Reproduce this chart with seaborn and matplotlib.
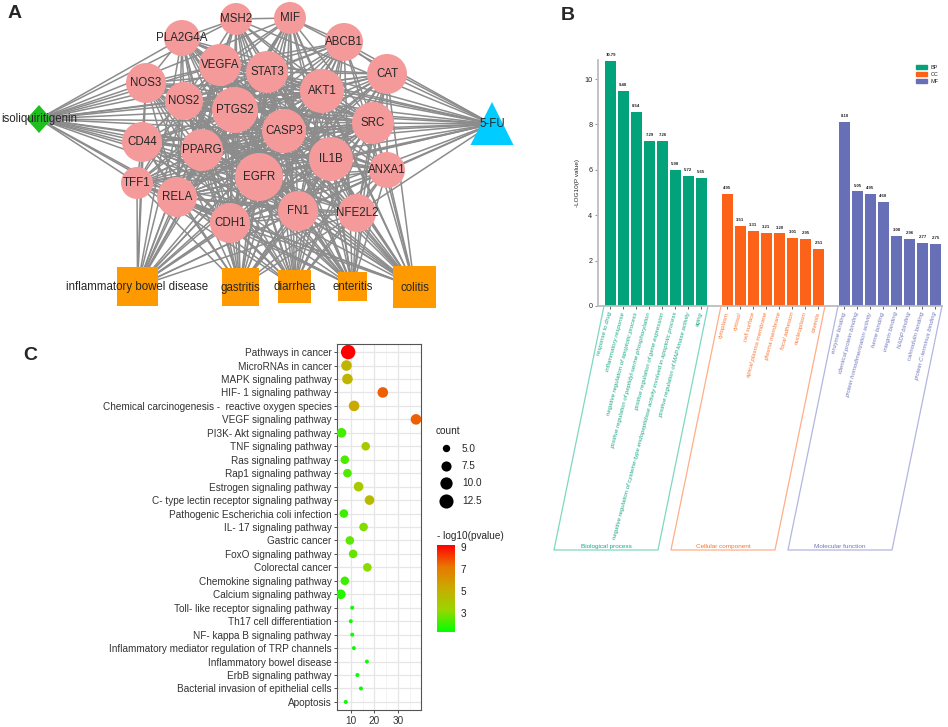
import numpy as np
import pandas as pd
import matplotlib
matplotlib.use("Agg")
import matplotlib.pyplot as plt
import matplotlib.cm as cm
import seaborn as sns
from matplotlib.patches import Circle, Rectangle, Polygon, Patch
from matplotlib.lines import Line2D
from matplotlib.colors import LinearSegmentedColormap, Normalize

sns.set_style("white")
plt.rcParams['font.family'] = ['Liberation Sans', 'DejaVu Sans']

W, H = 948, 727

# ================= A: network (layout, px) =================
GENES = ["MSH2", "MIF", "PLA2G4A", "ABCB1", "VEGFA", "STAT3", "CAT", "NOS3", "AKT1",
         "NOS2", "PTGS2", "SRC", "CASP3", "CD44", "PPARG", "IL1B", "ANXA1", "EGFR",
         "TFF1", "RELA", "FN1", "NFE2L2", "CDH1"]
GENE_X = [236, 290, 182, 344, 220, 267, 387, 146, 322, 184, 235, 373, 284, 142, 202,
          331, 387, 259, 137, 177, 298, 357, 230]
GENE_Y = [19, 18, 38, 42, 65, 72, 74, 83, 91, 101, 110, 123, 131, 142, 150, 159, 170,
          177, 183, 197, 211, 213, 223]
GENE_R = [16, 16, 18, 19, 21, 21, 20, 20, 22, 19, 23, 21, 22, 20, 21, 22, 18, 24, 16,
          20, 20, 19, 20]
HUB_GENES = ["AKT1", "EGFR", "CASP3", "PTGS2", "STAT3", "VEGFA", "IL1B", "PPARG",
             "SRC", "RELA", "CDH1", "FN1", "NOS2"]
EXTRA_PPI = [("NOS3", "CD44"), ("CD44", "TFF1"), ("MSH2", "MIF"), ("ABCB1", "CAT"),
             ("PLA2G4A", "NOS3"), ("ANXA1", "NFE2L2"), ("CAT", "NFE2L2"),
             ("MIF", "ABCB1"), ("CAT", "ANXA1"), ("PLA2G4A", "MSH2")]

DRUGS = ["isoliquiritigenin", "5-FU"]
DRUG_X = [39, 492]
DRUG_Y = [119, 124]

DISEASES = ["inflammatory bowel disease", "gastritis", "diarrhea", "enteritis", "colitis"]
DIS_X = [137.5, 240, 294.5, 352.5, 414.5]
DIS_Y = [286.5, 287, 286.5, 286.5, 287]
DIS_W = [41, 37, 33, 29, 43]
DIS_H = [39, 38, 33, 29, 42]

# ================= B: GO enrichment =================
bp_terms = ["response to drug", "inflammatory response",
            "negative regulation of apoptotic process",
            "positive regulation of peptidyl-serine phosphorylation",
            "positive regulation of gene expression",
            "negative regulation of cysteine-type endopeptidase activity involved in apoptotic process",
            "positive regulation of MAP kinase activity", "aging"]
bp_vals = [10.79, 9.48, 8.54, 7.29, 7.26, 5.98, 5.72, 5.65]
cc_terms = ["cytoplasm", "cytosol", "cell surface", "apical plasma membrane",
            "plasma membrane", "focal adhesion", "nucleoplasm", "caveola"]
cc_vals = [4.95, 3.51, 3.31, 3.21, 3.20, 3.01, 2.95, 2.51]
mf_terms = ["enzyme binding", "identical protein binding",
            "protein homodimerization activity", "heme binding", "integrin binding",
            "NADP binding", "calmodulin binding", "protein C-terminus binding"]
mf_vals = [8.10, 5.05, 4.95, 4.60, 3.08, 2.96, 2.77, 2.75]
go_groups = ["BP", "CC", "MF"]
go_group_names = ["Biological process", "Cellular component", "Molecular function"]
go_colors = ["#02A27A", "#FD6318", "#6770B6"]
go_text_colors = ["#16A884", "#F8742E", "#7078BC"]
go_box_colors = ["#7ED8C0", "#FFAE88", "#B3B6E0"]

# ================= C: KEGG dot plot =================
kegg_terms = ["Pathways in cancer", "MicroRNAs in cancer", "MAPK signaling pathway",
              "HIF- 1 signaling pathway", "Chemical carcinogenesis -  reactive oxygen species",
              "VEGF signaling pathway", "PI3K- Akt signaling pathway", "TNF signaling pathway",
              "Ras signaling pathway", "Rap1 signaling pathway", "Estrogen signaling pathway",
              "C- type lectin receptor signaling pathway",
              "Pathogenic Escherichia coli infection", "IL- 17 signaling pathway",
              "Gastric cancer", "FoxO signaling pathway", "Colorectal cancer",
              "Chemokine signaling pathway", "Calcium signaling pathway",
              "Toll- like receptor signaling pathway", "Th17 cell differentiation",
              "NF- kappa B signaling pathway",
              "Inflammatory mediator regulation of TRP channels",
              "Inflammatory bowel disease", "ErbB signaling pathway",
              "Bacterial invasion of epithelial cells", "Apoptosis"]
kegg_x = [8.9, 8.2, 8.6, 23.5, 11.4, 37.5, 6.1, 16.3, 7.5, 8.6, 13.3, 17.9, 7.1, 15.4,
          9.6, 11.0, 17.0, 7.5, 5.8, 10.6, 10.0, 10.6, 11.3, 16.8, 12.8, 14.3, 7.9]
kegg_count = [13, 8, 8, 8, 8, 8, 7, 6, 6, 6, 7, 7, 6, 6, 6, 6, 6, 6, 7, 3, 3, 3, 3, 3,
              3, 3, 3]
kegg_logp = [9.2, 4.8, 4.8, 7.6, 5.3, 7.6, 2.2, 4.0, 2.3, 2.3, 3.9, 4.6, 2.1, 3.0, 2.5,
             2.6, 3.1, 2.1, 1.8, 1.5, 1.5, 1.5, 1.5, 1.4, 1.4, 1.4, 1.4]
count_legend = [5.0, 7.5, 10.0, 12.5]
logp_ticks = [3, 5, 7, 9]


def frac(left, top, right, bottom):
    return [left / W, 1 - bottom / H, (right - left) / W, (bottom - top) / H]


fig = plt.figure(figsize=(W / 100, H / 100), dpi=100)

# ---------------- A ----------------
ax_a = fig.add_axes(frac(0, 0, 540, 310))
ax_a.set_xlim(0, 540)
ax_a.set_ylim(310, 0)
ax_a.axis('off')

pos = {g: (x, y) for g, x, y in zip(GENES, GENE_X, GENE_Y)}
pos.update({d: (x, y) for d, x, y in zip(DRUGS, DRUG_X, DRUG_Y)})
pos.update({d: (x, y) for d, x, y in zip(DISEASES, DIS_X, DIS_Y)})

edges = []
for h in HUB_GENES:
    for g in GENES:
        if g != h:
            edges.append((h, g))
edges += EXTRA_PPI
for src in DRUGS + DISEASES:
    for g in GENES:
        edges.append((src, g))
for a, b in edges:
    ax_a.plot([pos[a][0], pos[b][0]], [pos[a][1], pos[b][1]],
              color='#8c8c8c', lw=1.1, zorder=1, solid_capstyle='butt')

for g, x, y, r in zip(GENES, GENE_X, GENE_Y, GENE_R):
    ax_a.add_patch(Circle((x, y), r, facecolor='#F59A9A', edgecolor='none', zorder=2))
    ax_a.text(x, y, g, ha='center', va='center', fontsize=8.3, zorder=3)

# drug nodes
dx, dy = DRUG_X[0], DRUG_Y[0]
ax_a.add_patch(Polygon([(dx - 12.5, dy), (dx, dy - 14), (dx + 12.5, dy), (dx, dy + 14)],
                       facecolor='#1FBF1F', edgecolor='none', zorder=2))
fx, fy = DRUG_X[1], DRUG_Y[1]
ax_a.add_patch(Polygon([(fx - 21.5, fy + 21), (fx, fy - 22), (fx + 21.5, fy + 21)],
                       facecolor='#00CCFF', edgecolor='none', zorder=2))
for d, x, y in zip(DRUGS, DRUG_X, DRUG_Y):
    ax_a.text(x, y, d, ha='center', va='center', fontsize=8.3, zorder=3)

for d, x, y, w, h in zip(DISEASES, DIS_X, DIS_Y, DIS_W, DIS_H):
    ax_a.add_patch(Rectangle((x - w / 2, y - h / 2), w, h, facecolor='#FF9900',
                             edgecolor='none', zorder=2))
    ax_a.text(x, y + 1, d, ha='center', va='center', fontsize=8.3, zorder=3)

# ---------------- B ----------------
go = pd.DataFrame({
    'term': bp_terms + cc_terms + mf_terms,
    'value': bp_vals + cc_vals + mf_vals,
    'group': ['BP'] * len(bp_terms) + ['CC'] * len(cc_terms) + ['MF'] * len(mf_terms),
})
go['pos'] = list(range(0, 8)) + list(range(9, 17)) + list(range(18, 26))

ax_b = fig.add_axes(frac(598, 60, 942, 306))
ax_b.set_facecolor('none')
sns.barplot(data=go, x='pos', y='value', hue='group', hue_order=go_groups,
            palette=go_colors, native_scale=True, dodge=False, width=0.85,
            errorbar=None, saturation=1, legend=False, linewidth=0, ax=ax_b)
ax_b.set_xlim(-0.96, 25.5)
ax_b.set_ylim(0, 10.84)
for _, row in go.iterrows():
    ax_b.text(row['pos'], row['value'] + 0.17, f"{row['value']:.2f}", ha='center',
              va='bottom', fontsize=3.1, fontweight='bold', color='#222222')

ax_b.set_xticks(go['pos'])
ax_b.set_xticklabels(go['term'], rotation=75, ha='right', va='center',
                     rotation_mode='anchor', fontsize=4.3, fontstyle='italic')
gcol = dict(zip(go_groups, go_text_colors))
for lab, grp in zip(ax_b.get_xticklabels(), go['group']):
    lab.set_color(gcol[grp])
ax_b.set_yticks([0, 2, 4, 6, 8, 10])
ax_b.tick_params(axis='y', labelsize=5.2, length=2.5, width=0.8, color='#999999',
                 pad=1.5, left=True)
ax_b.tick_params(axis='x', length=1.8, width=0.6, color='#444444', pad=2.5, bottom=True)
ax_b.set_xlabel('')
ax_b.set_ylabel('-LOG10(P value)', fontsize=4.6, labelpad=3)
for s in ['top', 'right']:
    ax_b.spines[s].set_visible(False)
for s in ['left', 'bottom']:
    ax_b.spines[s].set_color('#bdbdbd')
    ax_b.spines[s].set_linewidth(1.3)
ax_b.legend(handles=[Patch(color=c, label=g) for g, c in zip(go_groups, go_colors)],
            loc='upper left', bbox_to_anchor=(916 / W, 1 - 65 / H),
            bbox_transform=fig.transFigure, frameon=False, fontsize=4,
            handlelength=2.0, handleheight=0.8, labelspacing=0.35,
            handletextpad=0.6, borderpad=0, borderaxespad=0)

# overlay in figure pixels (top-left origin) for brackets and panel letters
ov = fig.add_axes([0, 0, 1, 1], zorder=10)
ov.set_xlim(0, W)
ov.set_ylim(H, 0)
ov.axis('off')

fig.canvas.draw()
slant, drop = 50, 244
for grp, name, tc, bc in zip(go_groups, go_group_names, go_text_colors, go_box_colors):
    p = go.loc[go['group'] == grp, 'pos']
    x0 = ax_b.transData.transform((p.min() - 0.5, 0))[0]
    x1 = ax_b.transData.transform((p.max() + 0.5, 0))[0]
    y0 = H - ax_b.transData.transform((0, 0))[1]
    ov.plot([x0, x0 - slant, x1 - slant, x1], [y0, y0 + drop, y0 + drop, y0],
            color=bc, lw=0.9)
    ov.text((x0 + x1) / 2 - slant, y0 + drop - 1, name, ha='center', va='bottom',
            fontsize=4.6, color=tc)

# ---------------- C ----------------
kegg = pd.DataFrame({'term': kegg_terms, 'ratio': kegg_x, 'count': kegg_count,
                     'logp': kegg_logp})
pcmap = LinearSegmentedColormap.from_list(
    'gr', ['#00FF00', '#98D700', '#C9AB00', '#E87700', '#FF0000'])
size_lo, size_hi = 8.3, 108.0
cnt_lo, cnt_hi = 3, 13
p_lo, p_hi = 1.3, 9.2

ax_c = fig.add_axes(frac(337, 344, 421, 710))
sns.scatterplot(data=kegg, x='ratio', y='term', size='count',
                sizes=(size_lo, size_hi), size_norm=(cnt_lo, cnt_hi),
                hue='logp', palette=pcmap, hue_norm=(p_lo, p_hi),
                legend=False, linewidth=0, ax=ax_c, zorder=3)
ax_c.set_xlim(4.2, 39.6)
ax_c.set_ylim(len(kegg_terms) - 0.4, -0.6)
ax_c.set_xticks([10, 20, 30])
ax_c.set_xticks([5, 15, 25, 35], minor=True)
ax_c.set_axisbelow(True)
ax_c.grid(True, which='major', color='#E6E6E6', lw=0.9)
ax_c.grid(True, which='minor', axis='x', color='#F0F0F0', lw=0.5)
ax_c.tick_params(which='major', labelsize=7.2, labelcolor='#333333', length=2.5,
                 width=0.6, color='#333333', pad=1.5, left=True, bottom=True)
ax_c.tick_params(which='minor', length=0)
ax_c.set_xlabel('')
ax_c.set_ylabel('')
for s in ax_c.spines.values():
    s.set_color('#555555')
    s.set_linewidth(0.8)


def count_area(c):
    return size_lo + (c - cnt_lo) / (cnt_hi - cnt_lo) * (size_hi - size_lo)


handles = [Line2D([], [], marker='o', ls='', color='black', markeredgewidth=0,
                  markersize=np.sqrt(count_area(c)), label=f'{c:.1f}')
           for c in count_legend]
ax_c.legend(handles=handles, title='count', loc='upper left',
            bbox_to_anchor=(436 / W, 1 - 426 / H), bbox_transform=fig.transFigure,
            frameon=False, fontsize=7.2, title_fontsize=7.2, labelspacing=0.75,
            handlelength=2.0, handletextpad=0.6, borderpad=0, borderaxespad=0,
            alignment='left')

cax = fig.add_axes(frac(437, 545, 455, 632))
cb = fig.colorbar(cm.ScalarMappable(norm=Normalize(p_lo, p_hi), cmap=pcmap),
                  cax=cax, ticks=logp_ticks)
cb.outline.set_visible(False)
cax.tick_params(labelsize=7.2, length=3, width=0.6, color='white', direction='in',
                pad=4, labelcolor='#222222')
fig.text(437 / W, 1 - 536 / H, '- log10(pvalue)', fontsize=7.2, ha='left',
         va='center')

# panel letters
for letter, x, y in [('A', 15, 14), ('B', 568, 15), ('C', 30, 356)]:
    ov.text(x, y, letter, fontsize=14, fontweight='bold', ha='center', va='center')

fig.savefig('out.png', dpi=100)
